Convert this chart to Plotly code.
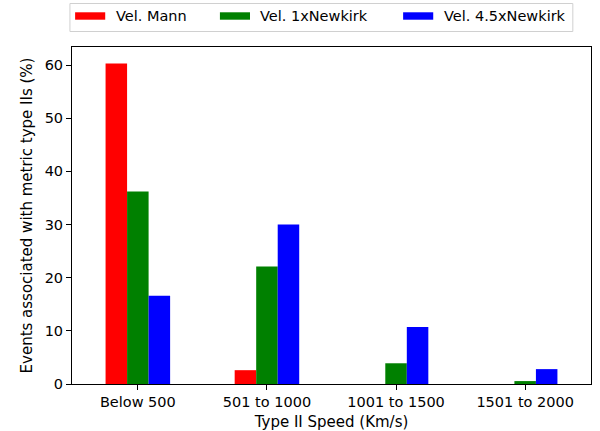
import plotly.graph_objects as go

categories = ["Below 500", "501 to 1000", "1001 to 1500", "1501 to 2000"]
series_names = ["Vel. Mann", "Vel. 1xNewkirk", "Vel. 4.5xNewkirk"]
vel_mann = [60.3, 2.6, 0.0, 0.0]
vel_1x_newkirk = [36.2, 22.1, 3.9, 0.55]
vel_45x_newkirk = [16.6, 30.0, 10.7, 2.8]
series_values = [vel_mann, vel_1x_newkirk, vel_45x_newkirk]
colors = ["#ff0000", "#008000", "#0000ff"]
y_ticks = [0, 10, 20, 30, 40, 50, 60]

font_family = "DejaVu Sans"
tick_size = 14.5
title_size = 15
x_idx = list(range(len(categories)))
bar_w = 1 / 6

fig = go.Figure()
for k, (name, vals, col) in enumerate(zip(series_names, series_values, colors)):
    fig.add_trace(go.Bar(
        x=x_idx, y=vals, name=name, width=bar_w, offset=(k - 1.5) * bar_w,
        marker=dict(color=col, line=dict(width=0)), showlegend=False,
    ))

# legend drawn as a framed row of wide swatches above the axes
legend_x = [0.006, 0.285, 0.638]
legend_mid = 1.092
shapes = [dict(type="rect", xref="paper", yref="paper", x0=-0.004, x1=0.965,
               y0=1.046, y1=1.129, line=dict(color="#d0d0d0", width=1),
               fillcolor="white", layer="above")]
annotations = []
for lx, name, col in zip(legend_x, series_names, colors):
    shapes.append(dict(type="rect", xref="paper", yref="paper", x0=lx, x1=lx + 0.058,
                       y0=legend_mid - 0.011, y1=legend_mid + 0.011,
                       line=dict(width=0), fillcolor=col))
    annotations.append(dict(xref="paper", yref="paper", x=lx + 0.074, y=legend_mid,
                            text=name, showarrow=False, xanchor="left", yanchor="middle",
                            font=dict(family=font_family, size=tick_size, color="black")))

fig.update_layout(
    width=600, height=431, plot_bgcolor="white", paper_bgcolor="white",
    margin=dict(l=72, r=9, t=47, b=47),
    barmode="overlay", font=dict(family=font_family, size=tick_size, color="black"),
    shapes=shapes, annotations=annotations,
)
fig.update_xaxes(
    range=[-0.51, 3.51], tickmode="array", tickvals=x_idx, ticktext=categories,
    showline=True, linecolor="black", linewidth=1, mirror=True, automargin=False,
    ticks="outside", ticklen=5, tickcolor="black", showgrid=False, zeroline=False,
    title=dict(text="Type II Speed (Km/s)", standoff=11, font=dict(size=title_size)),
    tickfont=dict(size=tick_size),
)
fig.update_yaxes(
    range=[0, 63.4], tickmode="array", tickvals=y_ticks,
    showline=True, linecolor="black", linewidth=1, mirror=True, automargin=False,
    ticks="outside", ticklen=5, tickcolor="black", showgrid=False, zeroline=False,
    title=dict(text="Events associated with metric type IIs (%)", standoff=8,
               font=dict(size=title_size)),
    tickfont=dict(size=tick_size),
)

fig.write_html("out.html")
